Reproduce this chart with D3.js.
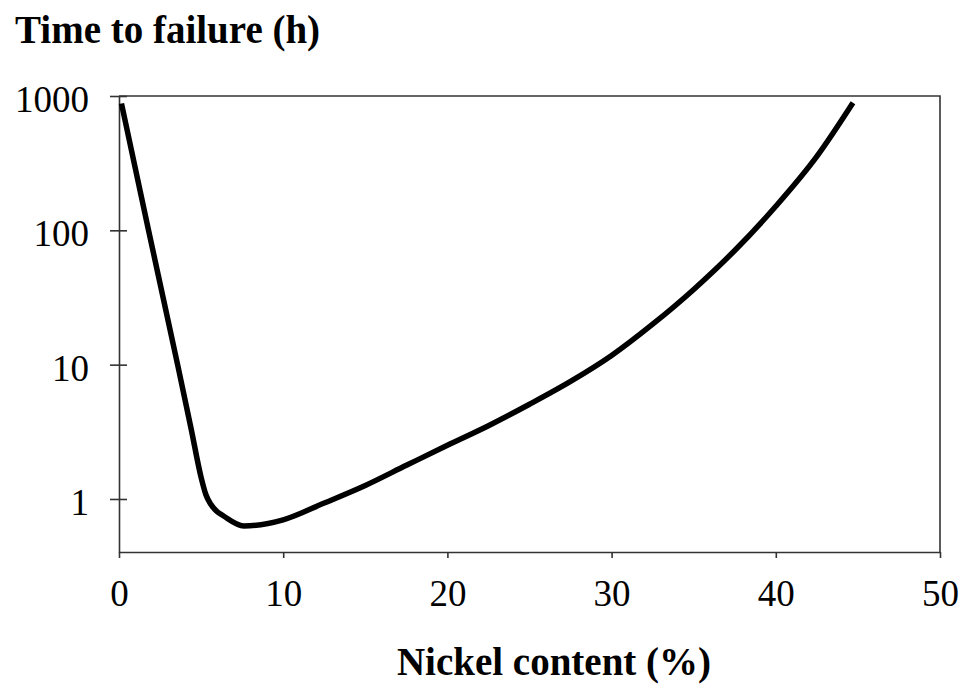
<!DOCTYPE html>
<html>
<head>
<meta charset="utf-8">
<script src="https://cdn.jsdelivr.net/npm/d3@7"></script>
<style>
  html, body { margin: 0; padding: 0; background: #fff; }
  svg { display: block; }
  text { font-family: "Liberation Serif", "Times New Roman", serif; fill: #000; }
</style>
</head>
<body>
<svg id="chart" width="960" height="684"></svg>
<script>
// ---- data ----
const nickel = [0.15, 1.8, 2.7, 3.6, 4.4, 5.0, 5.3, 5.6, 5.95, 6.35, 7.6, 10, 12.5, 15, 17.5, 20, 22.5, 25, 27.5, 30, 32.5, 35, 37.5, 40, 42.5, 44.7];
const hours  = [880, 100, 31, 9.6, 3.3, 1.45, 1.07, 0.91, 0.81, 0.75, 0.63, 0.70, 0.933, 1.26, 1.78, 2.51, 3.51, 5.07, 7.5, 11.7, 20.0, 36.3, 70.8, 151, 355, 890];
const xTicks = [0, 10, 20, 30, 40, 50];
const yTicks = [1, 10, 100, 1000];
const yTitle = "Time to failure (h)";
const xTitle = "Nickel content (%)";

const svg = d3.select("#chart");
const L = 119, R = 940, T = 96, B = 552;

const x = d3.scaleLinear().domain([0, 50]).range([L, R]);
const y = d3.scaleLog().domain([0.403, 1000]).range([B, T]);

// frame (top & right)
svg.append("path")
  .attr("d", `M${L},${T}H${R}V${B}`)
  .attr("fill", "none").attr("stroke", "#333").attr("stroke-width", 1.6);

// x axis
const xAxis = svg.append("g").attr("transform", `translate(0,${B})`)
  .call(d3.axisBottom(x).tickValues(xTicks).tickSize(6).tickSizeOuter(0).tickPadding(22));
xAxis.select(".domain").attr("stroke", "#333").attr("stroke-width", 1.6);
xAxis.selectAll(".tick line").attr("stroke", "#333").attr("stroke-width", 1.6);
xAxis.selectAll(".tick text")
  .style("font-family", '"Liberation Serif", "Times New Roman", serif')
  .style("font-size", "37px").attr("fill", "#000");

// y axis
const yAxis = svg.append("g").attr("transform", `translate(${L},0)`)
  .call(d3.axisLeft(y).tickValues(yTicks).tickFormat(d3.format("d")).tickSize(0).tickSizeOuter(0).tickPadding(30));
yAxis.select(".domain").attr("stroke", "#333").attr("stroke-width", 1.6);
yAxis.selectAll(".tick line").attr("x1", -9).attr("x2", 8).attr("stroke", "#333").attr("stroke-width", 1.6);
yAxis.selectAll(".tick text")
  .attr("dy", "0.42em")
  .style("font-family", '"Liberation Serif", "Times New Roman", serif')
  .style("font-size", "37px").attr("fill", "#000");

// curve
const pts = nickel.map((v, i) => [v, hours[i]]);
const line = d3.line()
  .x(d => x(d[0]))
  .y(d => y(d[1]))
  .curve(d3.curveMonotoneX);
svg.append("path")
  .datum(pts)
  .attr("d", line)
  .attr("fill", "none")
  .attr("stroke", "#000")
  .attr("stroke-width", 5.5)
  .attr("stroke-linejoin", "round");

// titles
svg.append("text").attr("x", 15).attr("y", 43)
  .style("font-size", "39px").style("font-weight", "bold").text(yTitle);
svg.append("text").attr("x", 554).attr("y", 675).attr("text-anchor", "middle")
  .style("font-size", "39px").style("font-weight", "bold").text(xTitle);
</script>
</body>
</html>
